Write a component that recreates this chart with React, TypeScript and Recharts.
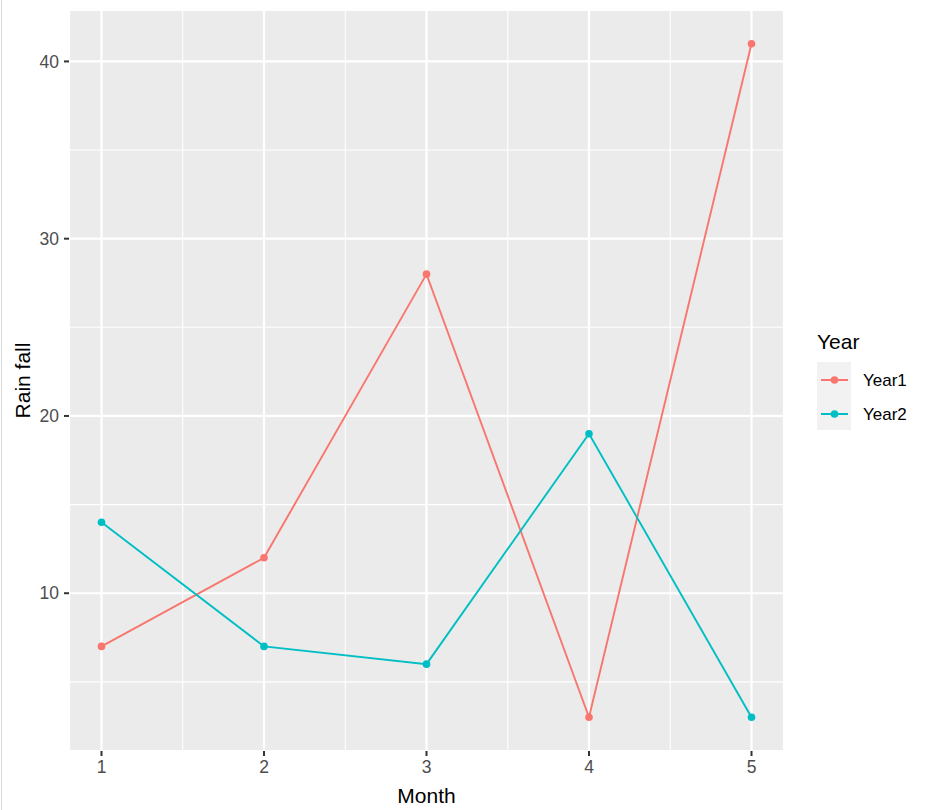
import React from 'react';
import { LineChart, Line, XAxis, YAxis, CartesianGrid, ReferenceLine } from 'recharts';

const months = [1, 2, 3, 4, 5];
const year1 = [7, 12, 28, 3, 41];
const year2 = [14, 7, 6, 19, 3];
const xTicks = [1, 2, 3, 4, 5];
const yTicks = [10, 20, 30, 40];
const xMinor = [1.5, 2.5, 3.5, 4.5];
const yMinor = [5, 15, 25, 35];
const seriesNames = ['Year1', 'Year2'];
const seriesColors = ['#F8766D', '#00BFC4'];

const data = months.map((m, i) => ({ month: m, Year1: year1[i], Year2: year2[i] }));

const FONT = '"Liberation Sans", Arial, sans-serif';

const LegendBox = () => (
  <div style={{ fontFamily: FONT, position: 'absolute', left: 817, top: 329 }}>
    <div style={{ fontSize: 21, color: '#000', height: 26, lineHeight: '26px', marginBottom: 7 }}>Year</div>
    <div style={{ display: 'flex' }}>
      <div style={{ background: '#F2F2F2', width: 34 }}>
        {seriesNames.map((n, i) => (
          <svg key={n} width={34} height={34} style={{ display: 'block' }}>
            <line x1={4} x2={31} y1={18} y2={18} stroke={seriesColors[i]} strokeWidth={2} />
            <circle cx={17.5} cy={18} r={3.8} fill={seriesColors[i]} />
          </svg>
        ))}
      </div>
      <div>
        {seriesNames.map((n) => (
          <div key={n} style={{ height: 34, lineHeight: '38px', fontSize: 17, color: '#000', paddingLeft: 12 }}>{n}</div>
        ))}
      </div>
    </div>
  </div>
);

const YLabel = (props: any) => {
  const vb = props.viewBox || { x: 0, y: 0, width: 0, height: 0 };
  const x = 22;
  const y = vb.y + vb.height / 2;
  return (
    <text x={x} y={y} transform={`rotate(-90 ${x} ${y})`} textAnchor="middle" dominantBaseline="central" fontSize={21} fill="#000" fontFamily={FONT}>
      Rain fall
    </text>
  );
};

export default function App() {
  return (
    <div style={{ width: 925, height: 810, position: 'relative', background: '#fff' }}>
      <style>{`body{margin:0}`}</style>
      <div style={{ position: 'absolute', left: 1, top: 0, width: 1, height: 810, background: '#D9D9D9' }} />
      <LineChart width={925} height={810} data={data} margin={{ top: 10, right: 141, bottom: 0, left: 0 }}>
        <CartesianGrid fill="#EBEBEB" stroke="#FFFFFF" strokeWidth={2.2} />
        {xMinor.map((v) => (
          <ReferenceLine key={'x' + v} x={v} stroke="#FFFFFF" strokeWidth={1.1} />
        ))}
        {yMinor.map((v) => (
          <ReferenceLine key={'y' + v} y={v} stroke="#FFFFFF" strokeWidth={1.1} />
        ))}
        <XAxis
          dataKey="month"
          type="number"
          domain={[0.8, 5.2]}
          ticks={xTicks}
          allowDataOverflow
          height={59}
          axisLine={false}
          tickLine={{ stroke: '#333333', strokeWidth: 2 }}
          tickSize={5}
          tickMargin={5}
          tick={{ fill: '#4D4D4D', fontSize: 17.5, fontFamily: FONT }}
          label={{ value: 'Month', position: 'insideBottom', offset: 7, fill: '#000', fontSize: 21, fontFamily: FONT }}
        />
        <YAxis
          type="number"
          domain={[1.1, 42.9]}
          ticks={yTicks}
          allowDataOverflow
          width={69}
          axisLine={false}
          tickLine={{ stroke: '#333333', strokeWidth: 2 }}
          tickSize={5}
          tickMargin={5}
          tick={{ fill: '#4D4D4D', fontSize: 17.5, fontFamily: FONT }}
          label={<YLabel />}
        />
        {seriesNames.map((n, i) => (
          <Line
            key={n}
            type="linear"
            dataKey={n}
            stroke={seriesColors[i]}
            strokeWidth={1.9}
            dot={{ r: 3.8, fill: seriesColors[i], stroke: seriesColors[i], strokeWidth: 0 }}
            activeDot={false}
            isAnimationActive={false}
            legendType="none"
          />
        ))}
      </LineChart>
      <LegendBox />
    </div>
  );
}
